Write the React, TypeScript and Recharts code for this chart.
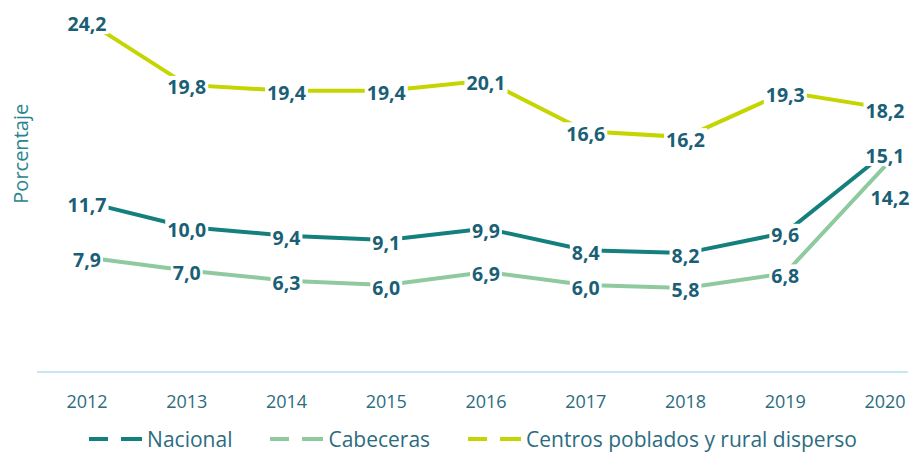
import React from 'react';
import { LineChart, Line, XAxis, YAxis, Legend } from 'recharts';

const years = ['2012', '2013', '2014', '2015', '2016', '2017', '2018', '2019', '2020'];
const nacional = [11.7, 10.0, 9.4, 9.1, 9.9, 8.4, 8.2, 9.6, 15.1];
const cabeceras = [7.9, 7.0, 6.3, 6.0, 6.9, 6.0, 5.8, 6.8, 14.2];
const centros = [24.2, 19.8, 19.4, 19.4, 20.1, 16.6, 16.2, 19.3, 18.2];
const seriesNames = ['Nacional', 'Cabeceras', 'Centros poblados y rural disperso'];
const yAxisTitle = 'Porcentaje';

const seriesKeys = ['nacional', 'cabeceras', 'centros'];
const colors = ['#14807D', '#8FCA9F', '#C4D500'];
const labelColor = '#1B5F76';
const tickColor = '#2B6C80';
const FONT = '"Open Sans", sans-serif';
const LABEL_SIZE = 19.5;

const data = years.map((y, i) => ({
  year: y,
  nacional: nacional[i],
  cabeceras: cabeceras[i],
  centros: centros[i],
}));

let ctx: CanvasRenderingContext2D | null = null;
function measure(text: string, font: string): number {
  if (!ctx && typeof document !== 'undefined') {
    ctx = document.createElement('canvas').getContext('2d');
  }
  if (!ctx) return text.length * 10;
  ctx.font = font;
  return ctx.measureText(text).width;
}

const fmt = (v: number) => v.toFixed(1).replace('.', ',');

function makeLabel(key: string) {
  return (props: any) => {
    const { x, y, value, index } = props;
    if (x == null || y == null || value == null) return null;
    let dx = 0;
    let dy = 2;
    if (key === 'cabeceras' && index === years.length - 1) {
      dx = 5;
      dy = 31;
    }
    const text = fmt(Number(value));
    const w = measure(text, `bold ${LABEL_SIZE}px "Open Sans"`) + 4;
    const h = 22;
    const cx = x + dx;
    const cy = y + dy;
    return (
      <g key={`${key}-${index}`}>
        <rect x={cx - w / 2} y={cy - h / 2} width={w} height={h} fill="#ffffff" />
        <text
          x={cx}
          y={cy}
          textAnchor="middle"
          dominantBaseline="central"
          fontFamily={FONT}
          fontWeight={700}
          fontSize={LABEL_SIZE}
          fill={labelColor}
        >
          {text}
        </text>
      </g>
    );
  };
}

const LegendContent = () => (
  <div
    style={{
      height: 43,
      boxSizing: 'border-box',
      paddingTop: 10,
      paddingLeft: 38,
      display: 'flex',
      justifyContent: 'center',
      alignItems: 'center',
      fontFamily: FONT,
      fontSize: 21,
      color: tickColor,
    }}
  >
    {seriesNames.map((name, i) => (
      <div key={name} style={{ display: 'flex', alignItems: 'center', marginRight: i < seriesNames.length - 1 ? 38 : 0 }}>
        <svg width={53} height={10} style={{ marginRight: 5 }}>
          <line x1={0} y1={5} x2={19} y2={5} stroke={colors[i]} strokeWidth={4} />
          <line x1={32} y1={5} x2={53} y2={5} stroke={colors[i]} strokeWidth={4} />
        </svg>
        <span>{name}</span>
      </div>
    ))}
  </div>
);

const YTitle = (props: any) => {
  const vb = props.viewBox || {};
  const cx = 20;
  const cy = (vb.y ?? 0) + (vb.height ?? 0) / 2 - 37;
  return (
    <text
      x={cx}
      y={cy}
      transform={`rotate(-90, ${cx}, ${cy})`}
      textAnchor="middle"
      dominantBaseline="central"
      fontFamily={FONT}
      fontSize={20}
      fill="#2A8590"
    >
      {yAxisTitle}
    </text>
  );
};

export default function App() {
  return (
    <div style={{ position: 'absolute', left: 0, top: 0, background: '#fff' }}>
      <LineChart width={913} height={455} data={data} margin={{ top: 9.5, right: 5, bottom: 0, left: 0 }}>
        <YAxis
          width={37}
          domain={[0, 25]}
          ticks={[0, 25]}
          tick={false}
          axisLine={false}
          tickLine={false}
          label={<YTitle />}
        />
        <XAxis
          dataKey="year"
          height={40}
          padding={{ left: 50, right: 23 }}
          axisLine={{ stroke: '#C7E7F4', strokeWidth: 2 }}
          tickLine={false}
          tickMargin={17}
          tick={{ fill: tickColor, fontFamily: FONT, fontSize: 18 }}
          interval={0}
        />
        <Legend verticalAlign="bottom" height={43} content={<LegendContent />} />
        {seriesKeys.map((k, i) => (
          <Line
            key={k}
            dataKey={k}
            name={seriesNames[i]}
            stroke={colors[i]}
            strokeWidth={4}
            dot={false}
            activeDot={false}
            isAnimationActive={false}
          />
        ))}
        {seriesKeys.map((k) => (
          <Line
            key={`${k}-labels`}
            dataKey={k}
            stroke="none"
            dot={false}
            activeDot={false}
            legendType="none"
            isAnimationActive={false}
            label={makeLabel(k)}
          />
        ))}
      </LineChart>
    </div>
  );
}
